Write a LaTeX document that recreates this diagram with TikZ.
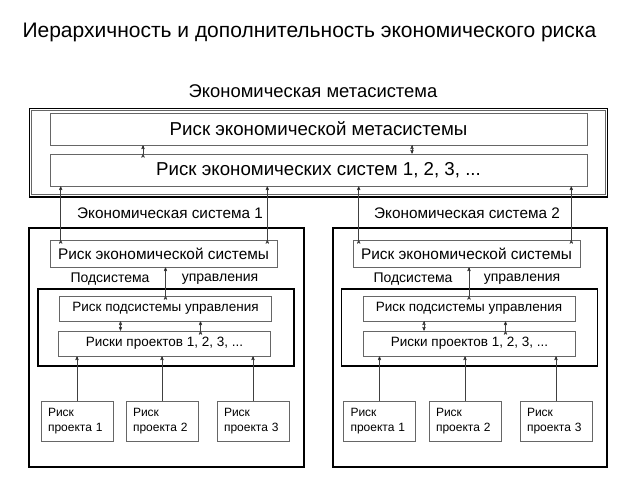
\documentclass[tikz,border=0pt]{standalone}
\usepackage{fontspec}
\setmainfont{Liberation Sans}
\usetikzlibrary{arrows}

\begin{document}
\begin{tikzpicture}[x=1pt, y=-1pt, >=stealth', shorten >=0pt,
    box/.style={draw=black!60, line width=0.6pt, inner sep=0pt},
    metabox/.style={box, minimum width=537pt, minimum height=32pt, font=\fontsize{18.7}{21}\selectfont},
    sysbox/.style={box, minimum width=227pt, minimum height=27pt, font=\fontsize{15.4}{17}\selectfont},
    subbox/.style={box, minimum width=212pt, minimum height=25pt, font=\fontsize{13.5}{15}\selectfont},
    projbox/.style={box, minimum width=72pt, minimum height=40pt, align=left, text width=58pt, font=\fontsize{12}{15.5}\selectfont},
    frame/.style={draw, line width=1.6pt, inner sep=0pt},
    subframe/.style={draw, line width=1.1pt, inner sep=0pt, minimum width=256pt, minimum height=77pt},
    lbl/.style={inner sep=0pt, font=\fontsize{14}{16}\selectfont},
    link/.style={->, draw=black!75, line width=0.5pt}]
    \useasboundingbox (0,0) rectangle (640,480);

    % Title and metasystem
    \node [anchor=west, font=\fontsize{21}{24}\selectfont] (title) at (19,32) {Иерархичность и дополнительность экономического риска};
    \node [font=\fontsize{18.4}{21}\selectfont] (metaname) at (313,91) {Экономическая метасистема};
    \node [frame, line width=1.3pt, minimum width=578pt, minimum height=88pt] (meta) at (318.5,152.5) {};
    \draw [black!60, line width=0.5pt] ([shift={(2.5pt,-2.5pt)}]meta.north west) rectangle ([shift={(-2.5pt,2.5pt)}]meta.south east);
    \draw [line width=1.2pt] ([yshift=-0.6pt]meta.south west) -- ([yshift=-0.6pt]meta.south east);
    \node [metabox] (metarisk) at (318.5,129) {Риск экономической метасистемы};
    \node [metabox] (sysrisks) at (318.5,170) {Риск экономических систем 1, 2, 3, ...};

    % System 1
    \node [frame, minimum width=275pt, minimum height=239pt] (sys1) at (166.5,347.5) {};
    \node [lbl, font=\fontsize{15.3}{17}\selectfont] (sysname1) at (170,213) {Экономическая система 1};
    \node [sysbox] (sysrisk1) at (163.5,253.5) {Риск экономической системы};
    \node [lbl] (subname1a) at (110,279) {Подсистема};
    \node [lbl] (subname1b) at (220,279) {управления};
    \node [subframe] (sub1) at (166,327.5) {};
    \node [subbox] (subrisk1) at (165.5,308.5) {Риск подсистемы управления};
    \node [subbox] (projrisk1) at (164.5,343.5) {Риски проектов 1, 2, 3, ...};
    \node [projbox] (p11) at (77,421) {Риск\\проекта 1};
    \node [projbox] (p12) at (162,421) {Риск\\проекта 2};
    \node [projbox] (p13) at (253,421) {Риск\\проекта 3};

    % System 2
    \node [frame, minimum width=274pt, minimum height=239pt] (sys2) at (470,347.5) {};
    \node [lbl, font=\fontsize{15.3}{17}\selectfont] (sysname2) at (467,213) {Экономическая система 2};
    \node [sysbox] (sysrisk2) at (466.5,253.5) {Риск экономической системы};
    \node [lbl] (subname2a) at (413,279) {Подсистема};
    \node [lbl] (subname2b) at (522,279) {управления};
    \node [subframe] (sub2) at (469.5,327.5) {};
    \node [subbox] (subrisk2) at (469,308.5) {Риск подсистемы управления};
    \node [subbox] (projrisk2) at (469.5,343.5) {Риски проектов 1, 2, 3, ...};
    \node [projbox] (p21) at (379.5,421) {Риск\\проекта 1};
    \node [projbox] (p22) at (465,421) {Риск\\проекта 2};
    \node [projbox] (p23) at (556,421) {Риск\\проекта 3};

    % Points where the links leave their boxes
    \coordinate (mup)   at ([xshift=-175.5pt]sysrisks.north);
    \coordinate (mdown) at ([xshift=93.5pt]metarisk.south);
    \coordinate (s1l) at ([xshift=11pt]sysrisk1.north west);
    \coordinate (s1r) at ([xshift=-10pt]sysrisk1.north east);
    \coordinate (s2l) at ([xshift=6pt]sysrisk2.north west);
    \coordinate (s2r) at ([xshift=-9pt]sysrisk2.north east);
    \coordinate (d1) at ([xshift=-45pt]subrisk1.south);
    \coordinate (u1) at ([xshift=36pt]projrisk1.north);
    \coordinate (d2) at ([xshift=-45pt]subrisk2.south);
    \coordinate (u2) at ([xshift=36pt]projrisk2.north);

    % Paths
    \path [link] (mup)   edge (mup |- metarisk.south);
    \path [link] (mdown) edge (mdown |- sysrisks.north);
    \path [link] (s1l) edge (s1l |- sysrisks.south);
    \path [link] (s1r) edge (s1r |- sysrisks.south);
    \path [link] (s2l) edge (s2l |- sysrisks.south);
    \path [link] (s2r) edge (s2r |- sysrisks.south);
    \path [link] (subrisk1.north) edge (subrisk1.north |- sysrisk1.south);
    \path [link] (subrisk2.north) edge (subrisk2.north |- sysrisk2.south);
    \path [link] (d1) edge (d1 |- projrisk1.north);
    \path [link] (u1) edge (u1 |- subrisk1.south);
    \path [link] (d2) edge (d2 |- projrisk2.north);
    \path [link] (u2) edge (u2 |- subrisk2.south);
    \path [link] (p11) edge (p11 |- projrisk1.south);
    \path [link] (p12) edge (p12 |- projrisk1.south);
    \path [link] (p13) edge (p13 |- projrisk1.south);
    \path [link] (p21) edge (p21 |- projrisk2.south);
    \path [link] (p22) edge (p22 |- projrisk2.south);
    \path [link] (p23) edge (p23 |- projrisk2.south);
\end{tikzpicture}
\end{document}
